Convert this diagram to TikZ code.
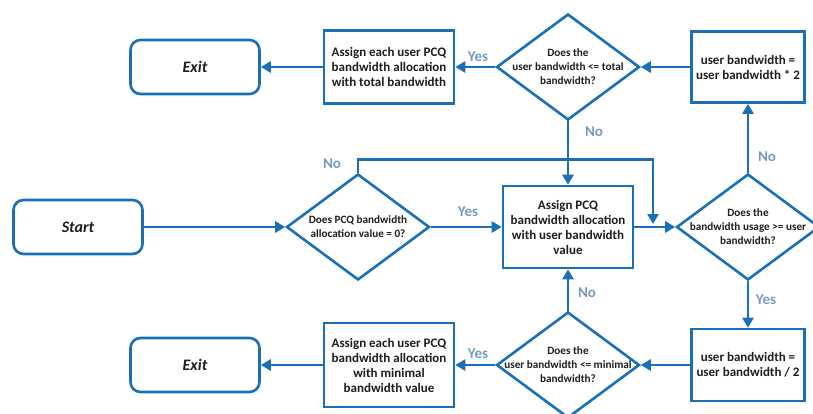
\documentclass[tikz,border=0pt]{standalone}
\usepackage{fontspec}
\setmainfont{Carlito}
\usetikzlibrary{shapes.geometric,arrows.meta}

\definecolor{flowblue}{RGB}{26,111,182}
\definecolor{answerblue}{RGB}{118,154,196}
\definecolor{inktext}{RGB}{30,30,30}

\tikzset{
  terminal/.style={draw=flowblue, line width=2.6pt, rounded corners=10pt,
    minimum width=129pt, minimum height=54pt, text=inktext,
    font=\bfseries\itshape\fontsize{16}{18}\selectfont},
  process/.style={draw=flowblue, line width=2.6pt, fill=white,
    minimum width=130pt, minimum height=73pt, align=center, text=inktext,
    font=\bfseries\fontsize{13}{15}\selectfont},
  decision/.style={draw=flowblue, line width=2.6pt, diamond,
    minimum width=143pt, minimum height=106pt, inner sep=0pt},
  dtext/.style={align=center, text=inktext,
    font=\bfseries\fontsize{11.2}{14}\selectfont},
  flow/.style={draw=flowblue, line width=2.6pt,
    -{Triangle[length=10pt,width=11pt]}},
  answer/.style={text=answerblue, font=\bfseries\fontsize{15}{17}\selectfont},
}

\begin{document}
\begin{tikzpicture}[x=1pt, y=-1pt]
  \useasboundingbox (0,0) rectangle (813,413);

  % top row
  \node[terminal] (exitT) at (195,67) {Exit};
  \node[process] (assignT) at (389,67)
    {Assign each user PCQ\\bandwidth allocation\\with total bandwidth};
  \node[decision, label={[dtext]center:Does the\\user bandwidth <= total\\bandwidth?}]
    (checkT) at (568,67) {};
  \node[process, minimum width=113pt, minimum height=71pt] (dbl) at (748,67)
    {user bandwidth =\\user bandwidth * 2};

  % middle row
  \node[terminal] (start) at (78,227) {Start};
  \node[decision, label={[dtext]center:Does PCQ bandwidth\\allocation value = 0?}]
    (zero) at (358,227) {};
  \node[process, minimum height=82pt] (assignU) at (568,227)
    {Assign PCQ\\bandwidth allocation\\with user bandwidth\\value};
  \node[decision, label={[dtext]center:Does the\\bandwidth usage >= user\\bandwidth?}]
    (usage) at (748,227) {};
  \coordinate (merge) at (653,224);

  % bottom row
  \node[terminal] (exitB) at (195,365) {Exit};
  \node[process, minimum height=84pt] (assignM) at (389,365)
    {Assign each user PCQ\\bandwidth allocation\\with minimal\\bandwidth value};
  \node[decision, label={[dtext]center:Does the\\user bandwidth <= minimal\\bandwidth?}]
    (checkM) at (568,365) {};
  \node[process, minimum width=113pt, minimum height=72pt] (half) at (748,365)
    {user bandwidth =\\user bandwidth / 2};

  % connectors
  \draw[flow] (start) -- (zero);
  \draw[flow] (zero) -- (assignU);
  \draw[flow] (zero.north) -- ++(0,-13) -| (merge);
  \draw[flow] (assignU) -- (usage);
  \draw[flow] (usage) -- (dbl);
  \draw[flow] (dbl) -- (checkT);
  \draw[flow] (checkT) -- (assignT);
  \draw[flow] (assignT) -- (exitT);
  \draw[flow] (checkT) -- (assignU);
  \draw[flow] (usage) -- (half);
  \draw[flow] (half) -- (checkM);
  \draw[flow] (checkM) -- (assignU);
  \draw[flow] (checkM) -- (assignM);
  \draw[flow] (assignM) -- (exitB);

  % Yes / No
  \node[answer] (yesT) at (478,57) {Yes};
  \node[answer] (noT) at (594,132) {No};
  \node[answer] (noZ) at (332,164) {No};
  \node[answer] (yesZ) at (468,212) {Yes};
  \node[answer] (noU) at (767,157) {No};
  \node[answer] (yesU) at (766,300) {Yes};
  \node[answer] (noM) at (587,293) {No};
  \node[answer] (yesM) at (478,354) {Yes};
\end{tikzpicture}
\end{document}
